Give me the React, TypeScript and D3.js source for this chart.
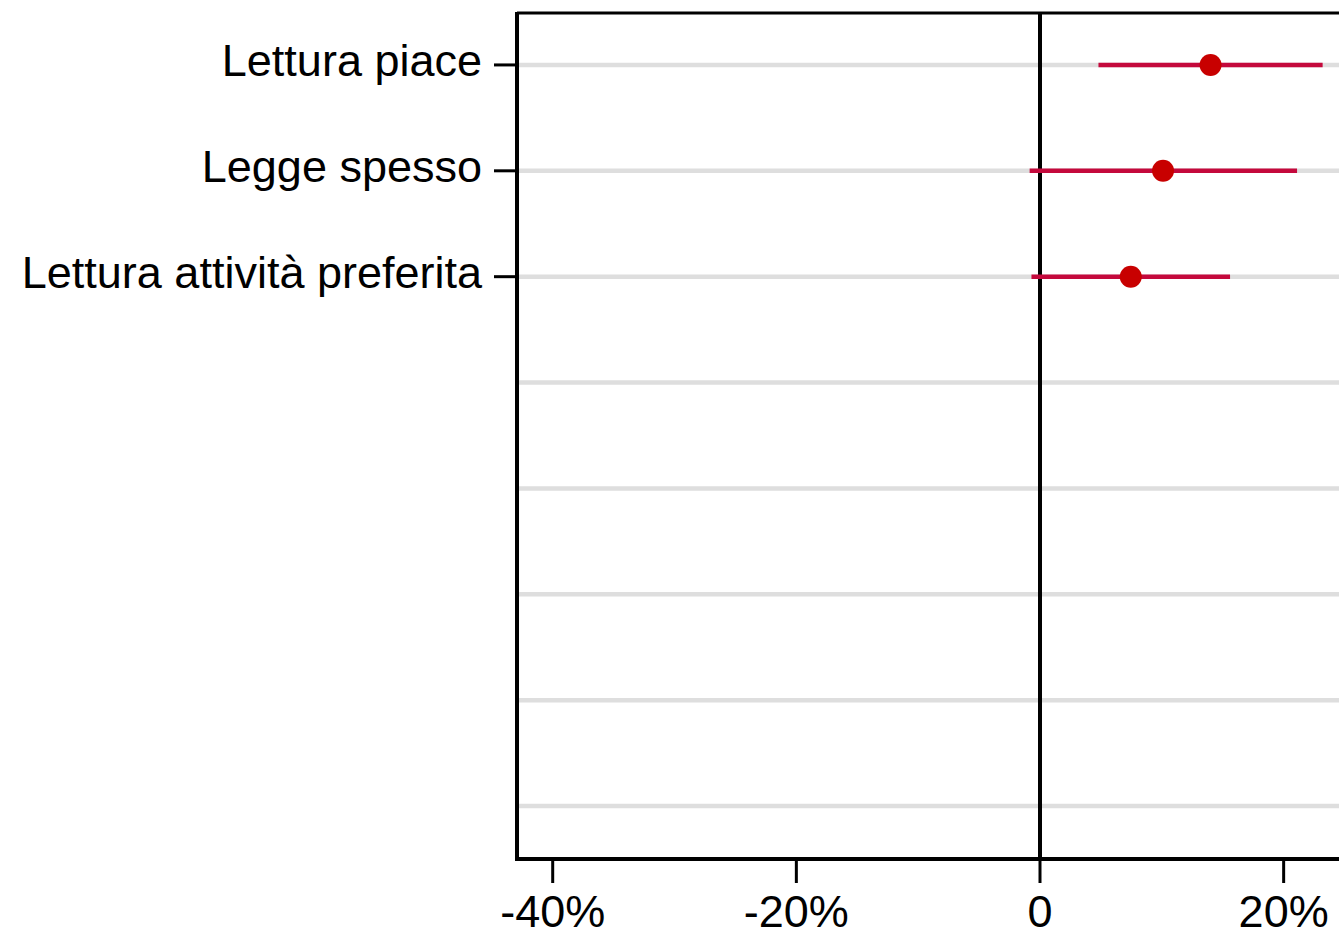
import React from "react";
import * as d3 from "d3";

const categories = [
  "Lettura piace",
  "Legge spesso",
  "Lettura attività preferita",
  "",
  "",
  "",
  "",
  "",
];
const estimates = [14.0, 10.1, 7.45];
const lower = [4.8, -0.85, -0.7];
const upper = [23.2, 21.1, 15.6];
const xTicks = [-40, -20, 0, 20];
const xTickLabels = ["-40%", "-20%", "0", "20%"];

const W = 1339;
const H = 933;
const left = 517;
const top = 12;
const bottom = 859;

export default function App() {
  const x = d3.scaleLinear().domain([-40, 0]).range([552.7, 1040]);
  const y = d3
    .scaleBand<number>()
    .domain(categories.map((_, i) => i))
    .range([top, bottom])
    .padding(0);
  const yc = (i: number) => (y(i) as number) + y.bandwidth() / 2;
  const font = "'Liberation Sans', Arial, Helvetica, sans-serif";

  return (
    <svg
      width={W}
      height={H}
      style={{ position: "absolute", left: 0, top: 0, background: "#fff" }}
      fontFamily={font}
    >
      <rect x={0} y={0} width={W} height={H} fill="#fff" />
      {/* gridlines */}
      {categories.map((_, i) => (
        <line
          key={"g" + i}
          x1={left + 2}
          x2={W}
          y1={yc(i)}
          y2={yc(i)}
          stroke="#DEDEDE"
          strokeWidth={4.5}
        />
      ))}
      {/* top border */}
      <line x1={left} x2={W} y1={top + 1} y2={top + 1} stroke="#000" strokeWidth={3} />
      {/* zero line */}
      <line x1={x(0)} x2={x(0)} y1={top} y2={bottom} stroke="#000" strokeWidth={4} />
      {/* CI lines */}
      {estimates.map((_, i) => (
        <line
          key={"ci" + i}
          x1={x(lower[i])}
          x2={x(upper[i])}
          y1={yc(i)}
          y2={yc(i)}
          stroke="#C4093C"
          strokeWidth={4.5}
        />
      ))}
      {/* points */}
      {estimates.map((v, i) => (
        <circle key={"p" + i} cx={x(v)} cy={yc(i)} r={11} fill="#C80000" />
      ))}
      {/* y axis */}
      <line x1={left} x2={left} y1={top} y2={bottom + 2} stroke="#000" strokeWidth={4} />
      {categories.map((c, i) =>
        c ? (
          <g key={"yt" + i}>
            <line x1={494} x2={left} y1={yc(i)} y2={yc(i)} stroke="#000" strokeWidth={3} />
            <text x={482} y={yc(i) + 11} textAnchor="end" fontSize={45} fill="#000">
              {c}
            </text>
          </g>
        ) : null
      )}
      {/* x axis */}
      <line x1={left - 2} x2={W} y1={bottom} y2={bottom} stroke="#000" strokeWidth={4} />
      {xTicks.map((t, i) => (
        <g key={"xt" + i}>
          <line x1={x(t)} x2={x(t)} y1={bottom} y2={883} stroke="#000" strokeWidth={3} />
          <text x={x(t)} y={927} textAnchor="middle" fontSize={45} fill="#000">
            {xTickLabels[i]}
          </text>
        </g>
      ))}
    </svg>
  );
}
